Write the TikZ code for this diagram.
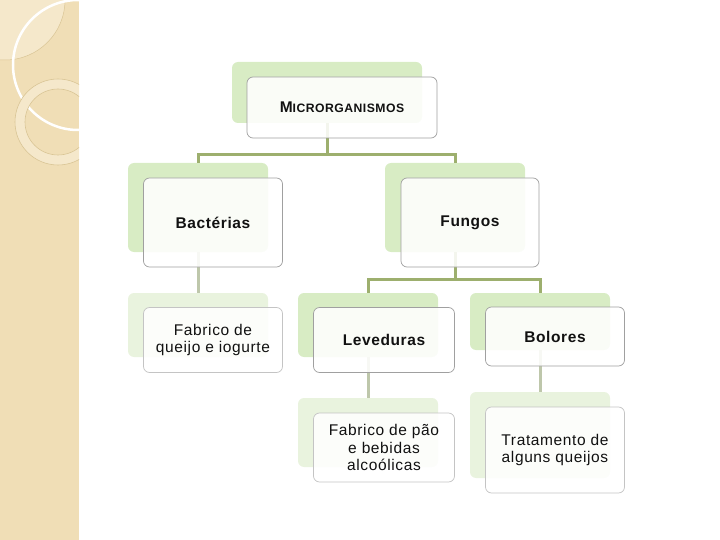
\documentclass[tikz,border=0pt]{standalone}
\usepackage{fontspec}
\setmainfont{Liberation Sans}
\newfontfamily\labelfont[LetterSpace=4]{Liberation Sans}
\definecolor{strip}{HTML}{F0DEB6}
\definecolor{stripLight}{HTML}{F5E8CB}
\definecolor{stripLine}{HTML}{D9C595}
\definecolor{leafGreen}{HTML}{D8ECC4}
\definecolor{leafPale}{HTML}{E9F3DE}
\definecolor{branch}{HTML}{9DAF6E}
\definecolor{twig}{HTML}{BEC7AB}
\definecolor{edge}{HTML}{A0A0A0}
\definecolor{edgePale}{HTML}{C4C4C4}
\definecolor{ink}{HTML}{111111}
\newcommand{\st}[1]{{\bfseries #1}}
\tikzset{
  every node/.style={text=ink},
  backing/.style={fill=#1, rounded corners=6pt, inner sep=0pt, minimum width=140pt},
  card/.style={draw=#1, fill=white, fill opacity=0.88, text opacity=1, line width=0.7pt,
    rounded corners=6pt, align=center, inner sep=0pt,
    font=\labelfont\fontsize{15.5}{17.5}\selectfont},
  link/.style={line width=3pt, draw=#1},
}

\begin{document}
\begin{tikzpicture}[x=1pt, y=-1pt]
  \useasboundingbox (0,0) rectangle (720,540);

  % ---------------------------------------------------------------- side strip
  \fill[strip] (0,0) rectangle (79,540);
  \begin{scope}
    \clip (0,0) rectangle (79,540);
    \fill[stripLight, draw=stripLine, line width=0.5pt] (5,0) circle (60);
    \draw[white, line width=2.5pt] (78,65) circle (65);
    \fill[stripLight, even odd rule, draw=stripLine, line width=0.6pt]
      (58,122) circle (43) (58,122) circle (33);
  \end{scope}

  % ---------------------------------------------------------------- backings
  \node[backing=leafGreen, minimum width=190pt, minimum height=61pt] (microBg) at (327,92.5) {};
  \node[backing=leafGreen, minimum height=89pt] (bactBg) at (198,207.5) {};
  \node[backing=leafPale, minimum height=64pt] (queijoBg) at (198,325) {};
  \node[backing=leafGreen, minimum height=89pt] (fungBg) at (455,207.5) {};
  \node[backing=leafGreen, minimum height=64pt] (levBg) at (368,325) {};
  \node[backing=leafPale, minimum height=69pt] (paoBg) at (368,432.5) {};
  \node[backing=leafGreen, minimum height=57pt] (bolBg) at (540,321.5) {};
  \node[backing=leafPale, minimum height=86pt] (tratBg) at (540,435) {};

  % ---------------------------------------------------------------- connectors
  \coordinate (busTop) at (327,155);
  \coordinate (busFung) at (455,279);
  \draw[link=branch] (microBg.south) -- (busTop);
  \draw[link=branch] (bactBg.north) |- (busTop) -| (fungBg.north);
  \draw[link=branch] (fungBg.south) -- (busFung);
  \draw[link=branch] (levBg.north) |- (busFung) -| (bolBg.north);
  \draw[link=twig] (bactBg.south) -- (queijoBg.north);
  \draw[link=twig] (levBg.south) -- (paoBg.north);
  \draw[link=twig] (bolBg.south) -- (tratBg.north);

  % ---------------------------------------------------------------- cards
  \node[card=edge, minimum width=190pt, minimum height=61pt] (micro)
    at ([xshift=15pt, yshift=-15pt]microBg.center)
    {\st{{\fontsize{15.5}{18}\selectfont M}{\fontsize{12.2}{14}\selectfont ICRORGANISMOS}}};
  \node[card=edge, minimum width=139pt, minimum height=89pt] (bact)
    at ([xshift=15pt, yshift=-15pt]bactBg.center) {\st{Bactérias}};
  \node[card=edgePale, minimum width=139pt, minimum height=65pt] (queijo)
    at ([xshift=15pt, yshift=-15pt]queijoBg.center) {Fabrico de\\queijo e iogurte};
  \node[card=edge, minimum width=138pt, minimum height=89pt] (fung)
    at ([xshift=15pt, yshift=-15pt]fungBg.center) {\st{Fungos}};
  \node[card=edge, minimum width=141pt, minimum height=65pt] (lev)
    at ([xshift=16pt, yshift=-15pt]levBg.center) {\st{Leveduras}};
  \node[card=edgePale, minimum width=141pt, minimum height=69pt] (pao)
    at ([xshift=16pt, yshift=-15pt]paoBg.center) {Fabrico de pão\\e bebidas\\alcoólicas};
  \node[card=edge, minimum width=139pt, minimum height=59pt] (bol)
    at ([xshift=15pt, yshift=-15pt]bolBg.center) {\st{Bolores}};
  \node[card=edgePale, minimum width=139pt, minimum height=86pt] (trat)
    at ([xshift=15pt, yshift=-15pt]tratBg.center) {Tratamento de\\alguns queijos};

\end{tikzpicture}
\end{document}
